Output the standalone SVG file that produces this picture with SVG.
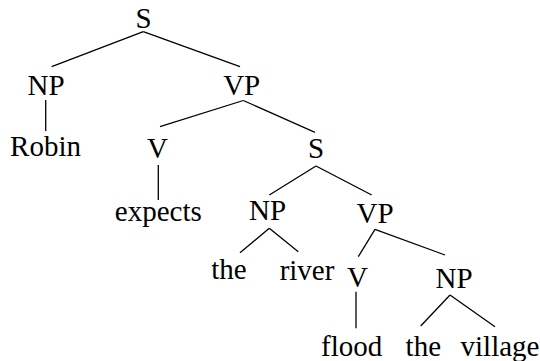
<svg xmlns="http://www.w3.org/2000/svg" width="540" height="361" viewBox="0 0 540 361">
  <style>
    text { font-family: "Liberation Serif", "DejaVu Serif", serif; font-size: 29px; fill: #000; text-anchor: middle; }
    .edges line { stroke: #000; stroke-width: 1.3; stroke-linecap: butt; }
  </style>
  <rect width="540" height="361" fill="#fff"/>

  <!-- branches of the parse tree -->
  <g id="edges" class="edges">
    <line x1="143.3" y1="31.7" x2="51.7" y2="66.7"/>
    <line x1="143.3" y1="31.7" x2="240" y2="66.7"/>
    <line x1="45.7" y1="100" x2="45.7" y2="131"/>
    <line x1="243.3" y1="100.5" x2="160" y2="126.7"/>
    <line x1="243.3" y1="100.5" x2="315" y2="132.3"/>
    <line x1="158.3" y1="165" x2="158.3" y2="200"/>
    <line x1="316" y1="166" x2="269.3" y2="195"/>
    <line x1="316" y1="166" x2="371.7" y2="195"/>
    <line x1="269.3" y1="228.3" x2="240" y2="252.7"/>
    <line x1="269.3" y1="228.3" x2="298.3" y2="251.7"/>
    <line x1="375" y1="229.3" x2="358.3" y2="256.7"/>
    <line x1="375" y1="229.3" x2="445" y2="255"/>
    <line x1="356" y1="291.7" x2="356" y2="328.3"/>
    <line x1="450" y1="295" x2="420.7" y2="326"/>
    <line x1="450" y1="295" x2="495" y2="326.7"/>
  </g>

  <!-- category and word nodes -->
  <g id="s-root"><text x="143.5" y="28">S</text></g>
  <g id="np-subj"><text x="46" y="94.5">NP</text></g>
  <g id="vp-main"><text x="241.7" y="94.5">VP</text></g>
  <g id="w-robin"><text x="45.5" y="156">Robin</text></g>
  <g id="v-main"><text x="157.5" y="158">V</text></g>
  <g id="w-expects"><text x="158.3" y="221">expects</text></g>
  <g id="s-embedded"><text x="316" y="158">S</text></g>
  <g id="np-embedded"><text x="267.5" y="220">NP</text></g>
  <g id="vp-embedded"><text x="375" y="222.5">VP</text></g>
  <g id="w-the-1"><text x="229" y="279">the</text></g>
  <g id="w-river"><text x="307" y="279.5">river</text></g>
  <g id="v-embedded"><text x="357.5" y="287">V</text></g>
  <g id="np-object"><text x="454" y="288">NP</text></g>
  <g id="w-flood"><text x="351.7" y="356">flood</text></g>
  <g id="w-the-2"><text x="423.3" y="356">the</text></g>
  <g id="w-village"><text x="500" y="356">village</text></g>
</svg>
